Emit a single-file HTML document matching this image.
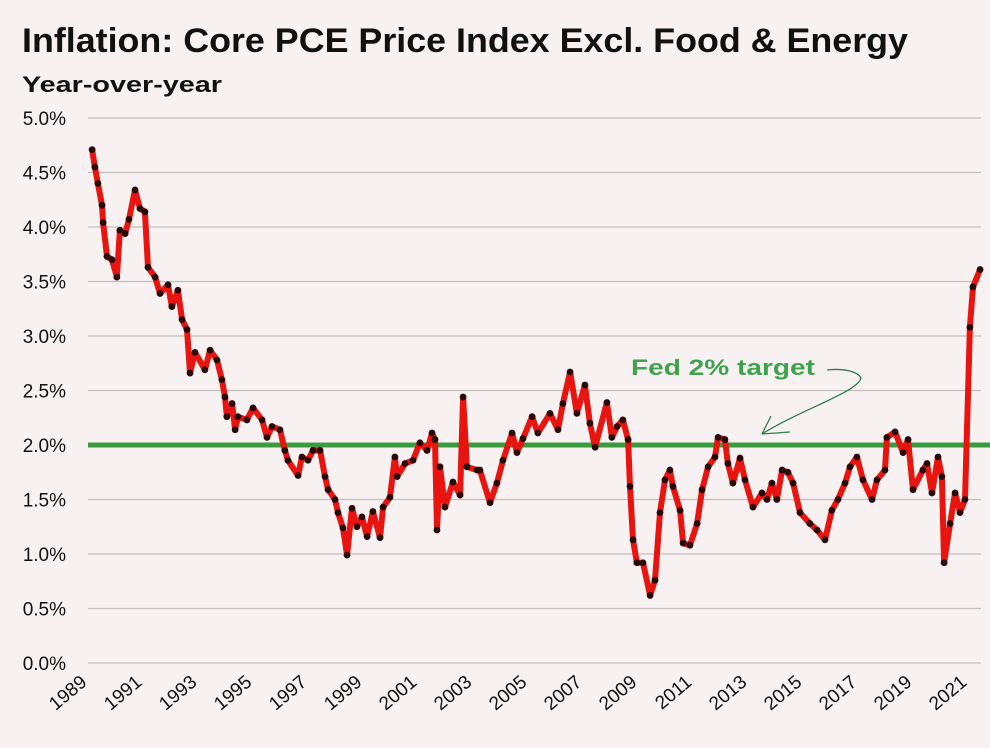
<!DOCTYPE html>
<html><head><meta charset="utf-8"><style>
html,body{margin:0;padding:0;background:#f7f1f1;}
svg{display:block;font-family:"Liberation Sans",sans-serif;}
</style></head><body>
<svg id="chart" width="990" height="748" viewBox="0 0 990 748">
<rect width="990" height="748" fill="#f7f1f1"/>
<text x="22" y="52" font-size="34" font-weight="bold" fill="#111" textLength="886" lengthAdjust="spacingAndGlyphs">Inflation: Core PCE Price Index Excl. Food &amp; Energy</text>
<text x="22" y="92" font-size="22" font-weight="bold" fill="#111" textLength="200" lengthAdjust="spacingAndGlyphs">Year-over-year</text>
<g id="grid"></g><g id="ylabels"></g><g id="xlabels"></g>
<line x1="88" y1="445" x2="990" y2="445" stroke="#3a9a3e" stroke-width="5"/>
<g id="series"></g>
<text x="631" y="375" font-size="22" font-weight="bold" fill="#3fa24c" textLength="184" lengthAdjust="spacingAndGlyphs">Fed 2% target</text>
<path d="M827,370 C845,368 858,372 861,378 C858,392 800,410 762,434 M762,434 L771,416 M762,434 L790,432" fill="none" stroke="#2e7d4a" stroke-width="1.3"/>
</svg>
<script>
const yTicks=[0,0.5,1,1.5,2,2.5,3,3.5,4,4.5,5];
const yTickLabels=["0.0%","0.5%","1.0%","1.5%","2.0%","2.5%","3.0%","3.5%","4.0%","4.5%","5.0%"];
const xTickYears=[1989,1991,1993,1995,1997,1999,2001,2003,2005,2007,2009,2011,2013,2015,2017,2019,2021];
const dates=[1989.15,1989.25,1989.36,1989.51,1989.55,1989.69,1989.87,1990.05,1990.16,1990.35,1990.49,1990.71,1990.89,1991.07,1991.18,1991.44,1991.62,1991.91,1992.05,1992.27,1992.42,1992.60,1992.71,1992.89,1993.25,1993.44,1993.69,1993.87,1993.98,1994.05,1994.24,1994.35,1994.45,1994.78,1995.00,1995.33,1995.51,1995.69,1995.98,1996.16,1996.27,1996.64,1996.78,1997.00,1997.18,1997.44,1997.62,1997.73,1997.98,1998.09,1998.27,1998.42,1998.60,1998.78,1998.96,1999.15,1999.36,1999.62,1999.73,1999.98,2000.16,2000.24,2000.53,2000.82,2001.07,2001.33,2001.51,2001.62,2001.69,2001.80,2001.98,2002.27,2002.53,2002.64,2002.78,2003.15,2003.25,2003.62,2003.87,2004.09,2004.42,2004.60,2004.82,2005.15,2005.36,2005.80,2006.09,2006.27,2006.53,2006.78,2007.07,2007.25,2007.44,2007.87,2008.05,2008.24,2008.45,2008.64,2008.71,2008.82,2008.96,2009.18,2009.44,2009.62,2009.80,2009.98,2010.16,2010.27,2010.53,2010.64,2010.89,2011.15,2011.33,2011.55,2011.80,2011.91,2012.16,2012.27,2012.45,2012.71,2012.89,2013.18,2013.51,2013.69,2013.87,2014.05,2014.24,2014.45,2014.64,2014.89,2015.25,2015.51,2015.80,2016.05,2016.27,2016.53,2016.71,2016.96,2017.18,2017.51,2017.69,2017.98,2018.05,2018.35,2018.64,2018.82,2019.00,2019.36,2019.51,2019.69,2019.91,2020.05,2020.13,2020.35,2020.53,2020.71,2020.89,2021.07,2021.18,2021.44];
const values=[4.71,4.55,4.40,4.20,4.04,3.73,3.70,3.54,3.97,3.94,4.07,4.34,4.17,4.14,3.63,3.54,3.39,3.47,3.27,3.42,3.15,3.06,2.66,2.85,2.69,2.87,2.78,2.60,2.44,2.26,2.38,2.14,2.26,2.23,2.34,2.23,2.07,2.17,2.14,1.95,1.86,1.72,1.89,1.86,1.95,1.95,1.71,1.59,1.50,1.38,1.24,0.99,1.42,1.25,1.34,1.16,1.39,1.15,1.43,1.52,1.89,1.71,1.83,1.86,2.02,1.95,2.11,2.05,1.22,1.80,1.43,1.66,1.54,2.44,1.80,1.77,1.77,1.47,1.65,1.86,2.11,1.93,2.06,2.26,2.11,2.29,2.14,2.38,2.67,2.29,2.55,2.20,1.98,2.39,2.07,2.17,2.23,2.05,1.62,1.13,0.92,0.92,0.62,0.76,1.38,1.68,1.77,1.62,1.40,1.10,1.08,1.28,1.59,1.80,1.89,2.07,2.05,1.83,1.65,1.88,1.68,1.43,1.56,1.50,1.65,1.50,1.77,1.75,1.65,1.38,1.28,1.22,1.13,1.40,1.50,1.65,1.80,1.89,1.68,1.50,1.68,1.77,2.07,2.12,1.93,2.05,1.59,1.77,1.83,1.56,1.89,1.71,0.92,1.28,1.56,1.38,1.50,3.08,3.45,3.61];
const NS="http://www.w3.org/2000/svg";
function xScale(t){return 88+(t-1989)*27.5;}
function yScale(v){return 663-v*109;}
const grid=document.getElementById('grid'),yl=document.getElementById('ylabels'),xl=document.getElementById('xlabels'),ser=document.getElementById('series');
yTicks.forEach((v,i)=>{
  const l=document.createElementNS(NS,'line');
  l.setAttribute('x1',88);l.setAttribute('x2',981);l.setAttribute('y1',yScale(v));l.setAttribute('y2',yScale(v));
  l.setAttribute('stroke','#c4bfbf');l.setAttribute('stroke-width','1.2');
  
  
  grid.appendChild(l);
  const t=document.createElementNS(NS,'text');
  t.setAttribute('x',66);t.setAttribute('y',yScale(v)+7);t.setAttribute('text-anchor','end');
  t.setAttribute('font-size','19');t.setAttribute('fill','#111');t.textContent=yTickLabels[i];
  
  
  yl.appendChild(t);
});
xTickYears.forEach(y=>{
  const t=document.createElementNS(NS,'text');
  const x=xScale(y);
  t.setAttribute('x',x);t.setAttribute('y',684);t.setAttribute('text-anchor','end');
  t.setAttribute('font-size','19');t.setAttribute('fill','#111');
  t.setAttribute('transform','rotate(-40 '+x+' 684)');
  t.textContent=y;
  
  
  xl.appendChild(t);
});
const p=document.createElementNS(NS,'polyline');
p.setAttribute('points',dates.map((d,i)=>xScale(d).toFixed(1)+','+yScale(values[i]).toFixed(1)).join(' '));
p.setAttribute('fill','none');p.setAttribute('stroke','#e8140f');p.setAttribute('stroke-width','6');p.setAttribute('stroke-linejoin','round');


ser.appendChild(p);
dates.forEach((d,i)=>{
  const c=document.createElementNS(NS,'circle');
  c.setAttribute('cx',xScale(d));c.setAttribute('cy',yScale(values[i]));c.setAttribute('r','3.4');c.setAttribute('fill','#2a0a08');
  
  
  ser.appendChild(c);
});
</script>
</body></html>
